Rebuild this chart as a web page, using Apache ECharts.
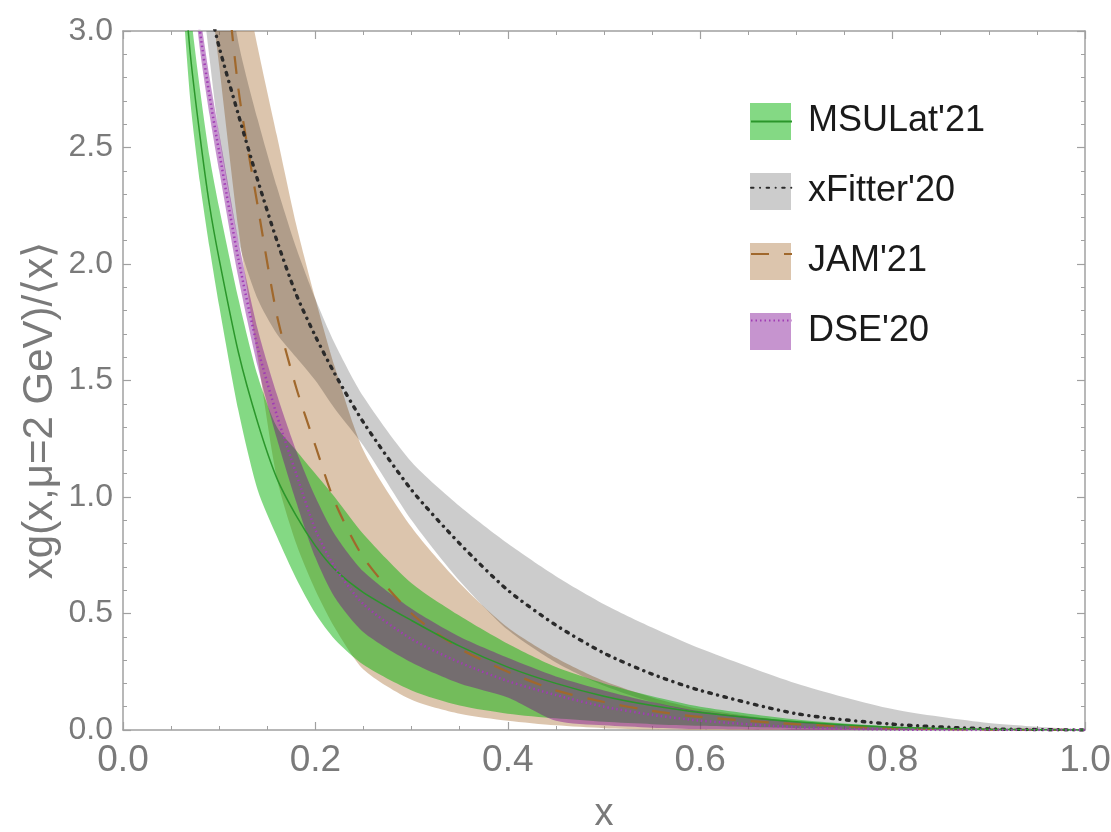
<!DOCTYPE html>
<html>
<head>
<meta charset="utf-8">
<script src="https://cdn.jsdelivr.net/npm/echarts@6/dist/echarts.min.js"></script>
<style>
html, body { margin: 0; background: #fff; }
#chart { width: 1111px; height: 832px; }
</style>
</head>
<body>
<div id="chart"></div>
<script>
// x grid shared by every curve
var xs = [0.06, 0.07, 0.08, 0.09, 0.1, 0.12, 0.14, 0.16, 0.18, 0.2, 0.22, 0.25, 0.3, 0.35, 0.4, 0.45, 0.5, 0.55, 0.6, 0.7, 0.8, 0.9, 1.0];

// MSULat'21
var msuLine = [3.4, 2.9, 2.55, 2.25, 2.02, 1.62, 1.32, 1.08, 0.92, 0.79, 0.69, 0.59, 0.47, 0.36, 0.27, 0.2, 0.145, 0.105, 0.075, 0.035, 0.012, 0.003, 0];
var msuLow  = [3.3, 2.7, 2.35, 2.07, 1.82, 1.37, 1.03, 0.83, 0.65, 0.5, 0.39, 0.28, 0.17, 0.105, 0.07, 0.05, 0.035, 0.025, 0.018, 0.008, 0.002, 0, 0];
var msuHigh = [3.7, 3.1, 2.75, 2.46, 2.24, 1.85, 1.52, 1.3, 1.2, 1.1, 1.0, 0.84, 0.63, 0.49, 0.37, 0.27, 0.2, 0.145, 0.1, 0.045, 0.015, 0.004, 0];

// xFitter'20
var fitLine = [3.6, 3.42, 3.25, 3.1, 2.93, 2.64, 2.36, 2.1, 1.87, 1.69, 1.53, 1.32, 1.03, 0.8, 0.6, 0.45, 0.33, 0.24, 0.17, 0.07, 0.025, 0.005, 0];
var fitLow  = [3.4, 3.3, 3.2, 2.88, 2.55, 2.1, 1.85, 1.7, 1.6, 1.5, 1.38, 1.22, 0.9, 0.64, 0.43, 0.29, 0.19, 0.12, 0.075, 0.03, 0.01, 0.002, 0];
var fitHigh = [5.0, 4.5, 4.1, 3.75, 3.45, 2.95, 2.62, 2.33, 2.07, 1.85, 1.66, 1.43, 1.15, 0.96, 0.8, 0.66, 0.54, 0.44, 0.35, 0.2, 0.09, 0.03, 0];

// JAM'21
var jamLine = [6.0, 5.2, 4.5, 4.0, 3.55, 2.75, 2.25, 1.78, 1.47, 1.22, 0.98, 0.74, 0.5, 0.35, 0.25, 0.17, 0.12, 0.082, 0.056, 0.025, 0.008, 0.002, 0];
var jamLow  = [5.0, 4.3, 3.7, 3.2, 2.85, 2.15, 1.6, 1.08, 0.8, 0.6, 0.44, 0.26, 0.13, 0.07, 0.04, 0.02, 0.008, 0.002, 0, 0, 0, 0, 0];
var jamHigh = [6.5, 5.6, 4.9, 4.3, 3.9, 3.35, 2.93, 2.55, 2.17, 1.85, 1.56, 1.2, 0.87, 0.63, 0.44, 0.31, 0.21, 0.14, 0.09, 0.035, 0.008, 0, 0];

// DSE'20
var dseLine = [3.84, 3.37, 3.0, 2.72, 2.48, 2.02, 1.64, 1.35, 1.1, 0.86, 0.7, 0.54, 0.39, 0.29, 0.21, 0.15, 0.1, 0.065, 0.04, 0.012, 0.002, 0, 0];
var dseLow  = [3.75, 3.3, 2.92, 2.64, 2.4, 1.94, 1.56, 1.25, 0.98, 0.74, 0.57, 0.42, 0.29, 0.2, 0.14, 0.04, 0.02, 0.01, 0.004, 0, 0, 0, 0];
var dseHigh = [3.95, 3.45, 3.08, 2.8, 2.56, 2.1, 1.72, 1.44, 1.2, 1.0, 0.84, 0.68, 0.52, 0.4, 0.31, 0.23, 0.17, 0.12, 0.08, 0.035, 0.01, 0.002, 0];

var names = ["MSULat'21", "xFitter'20", "JAM'21", "DSE'20"];
var xTickLabels = ['0.0', '0.2', '0.4', '0.6', '0.8', '1.0'];
var yTickLabels = ['0.0', '0.5', '1.0', '1.5', '2.0', '2.5', '3.0'];

var bandColors = {
    "MSULat'21": 'rgba(10,180,10,0.5)',
    "xFitter'20": 'rgba(0,0,0,0.2)',
    "JAM'21": 'rgba(185,139,91,0.5)',
    "DSE'20": 'rgba(120,0,140,0.42)'
};
var axisGray = '#a0a0a0';
var labelGray = '#7a7a7a';

function pairs(arr) {
    return xs.map(function (x, i) { return [x, arr[i]]; });
}

// band drawn as one polygon: upper edge left->right, lower edge back
function band(name, low, high) {
    var c = bandColors[name];
    return {
        name: name, type: 'custom', silent: true,
        data: xs.map(function (x, i) { return [x, low[i], high[i]]; }),
        encode: { x: 0, y: [1, 2] },
        itemStyle: { color: c },
        renderItem: function (params, api) {
            if (params.dataIndex !== 0) return;
            var pts = [];
            var i, p, last;
            for (i = 0; i < xs.length; i++) pts.push(api.coord([xs[i], high[i]]));
            for (i = xs.length - 1; i >= 0; i--) {
                p = api.coord([xs[i], low[i]]);
                last = pts[pts.length - 1];
                if (Math.abs(p[0] - last[0]) < 0.5 && Math.abs(p[1] - last[1]) < 0.5) continue;
                pts.push(p);
            }
            var cs = params.coordSys;
            return {
                type: 'polygon',
                shape: { points: pts, smooth: 0.25 },
                style: { fill: c },
                clipPath: { type: 'rect', shape: { x: cs.x, y: cs.y, width: cs.width, height: cs.height } }
            };
        }
    };
}

function curve(name, arr, style) {
    return {
        name: name + ' line', type: 'line', data: pairs(arr),
        symbol: 'none', silent: true, smooth: 0.25,
        lineStyle: style, itemStyle: { color: style.color }
    };
}

// each curve is drawn right after its own band, so later bands cover earlier lines
var series = [
    band("JAM'21", jamLow, jamHigh),
    curve("JAM'21", jamLine, { color: '#a0682c', width: 2.2, type: [18, 15] }),
    band("xFitter'20", fitLow, fitHigh),
    curve("xFitter'20", fitLine, { color: '#2a2a2a', width: 3.4, type: [2.5, 6.5, 0.1, 6.5], cap: 'round' }),
    band("MSULat'21", msuLow, msuHigh),
    curve("MSULat'21", msuLine, { color: '#2b962b', width: 1.5 }),
    band("DSE'20", dseLow, dseHigh),
    curve("DSE'20", dseLine, { color: '#a03cb4', width: 2.5, type: [1.5, 3] })
];

function frameAxis(pos, isX) {
    return {
        type: 'value', position: pos,
        min: 0, max: isX ? 1 : 3, interval: isX ? 0.2 : 0.5,
        axisLine: { show: true, onZero: false, lineStyle: { color: axisGray, width: 1.5 } },
        axisTick: { show: true, inside: true, length: 8, lineStyle: { color: axisGray, width: 1.2 } },
        minorTick: { show: true, splitNumber: isX ? 4 : 5, length: 4, lineStyle: { color: axisGray, width: 1 } },
        splitLine: { show: false },
        axisLabel: { show: false }
    };
}

var xBottom = frameAxis('bottom', true);
xBottom.axisLabel = {
    show: true, margin: 12, color: labelGray, fontSize: 37,
    fontFamily: "'Liberation Sans', Arial, sans-serif",
    formatter: function (v) { return xTickLabels[Math.round(v / 0.2)]; }
};
xBottom.name = 'x';
xBottom.nameLocation = 'middle';
xBottom.nameGap = 66;
xBottom.nameTextStyle = { color: labelGray, fontSize: 38, fontFamily: "'Liberation Sans', Arial, sans-serif" };

var yLeft = frameAxis('left', false);
yLeft.axisLabel = {
    show: true, margin: 10, color: labelGray, fontSize: 32,
    fontFamily: "'Liberation Sans', Arial, sans-serif",
    formatter: function (v) { return yTickLabels[Math.round(v / 0.5)]; }
};
yLeft.name = 'xg(x,\u03bc=2 GeV)/\u27e8x\u27e9';
yLeft.nameLocation = 'middle';
yLeft.nameGap = 62;
yLeft.nameMoveOverlap = false;
yLeft.nameTextStyle = { color: labelGray, fontSize: 42, fontFamily: "'Liberation Sans', Arial, sans-serif", padding: [0, 60, 0, 0] };

var option = {
    backgroundColor: '#fff',
    animation: false,
    grid: { left: 123, right: 26, top: 31, bottom: 102, containLabel: false, outerBoundsMode: 'none' },
    xAxis: [xBottom, frameAxis('top', true)],
    yAxis: [yLeft, frameAxis('right', false)],
    legend: [{
        data: names.map(function (n) { return { name: n, icon: 'rect', itemStyle: { color: bandColors[n], borderWidth: 0 } }; }),
        orient: 'vertical', left: 745, top: 98,
        itemWidth: 41, itemHeight: 37, itemGap: 33,
        selectedMode: false,
        textStyle: { fontSize: 36, color: '#1a1a1a', fontFamily: "'Liberation Sans', Arial, sans-serif", padding: [0, 0, 0, 12] }
    }, {
        data: names.map(function (n) { return n + ' line'; }),
        orient: 'vertical', left: 745, top: 98,
        itemWidth: 41, itemHeight: 37, itemGap: 33,
        selectedMode: false, z: 5,
        itemStyle: { color: 'rgba(0,0,0,0)', borderWidth: 0 },
        formatter: function () { return ''; }
    }],
    series: series
};

var myChart = echarts.init(document.getElementById('chart'));
myChart.setOption(option);
</script>
</body>
</html>
